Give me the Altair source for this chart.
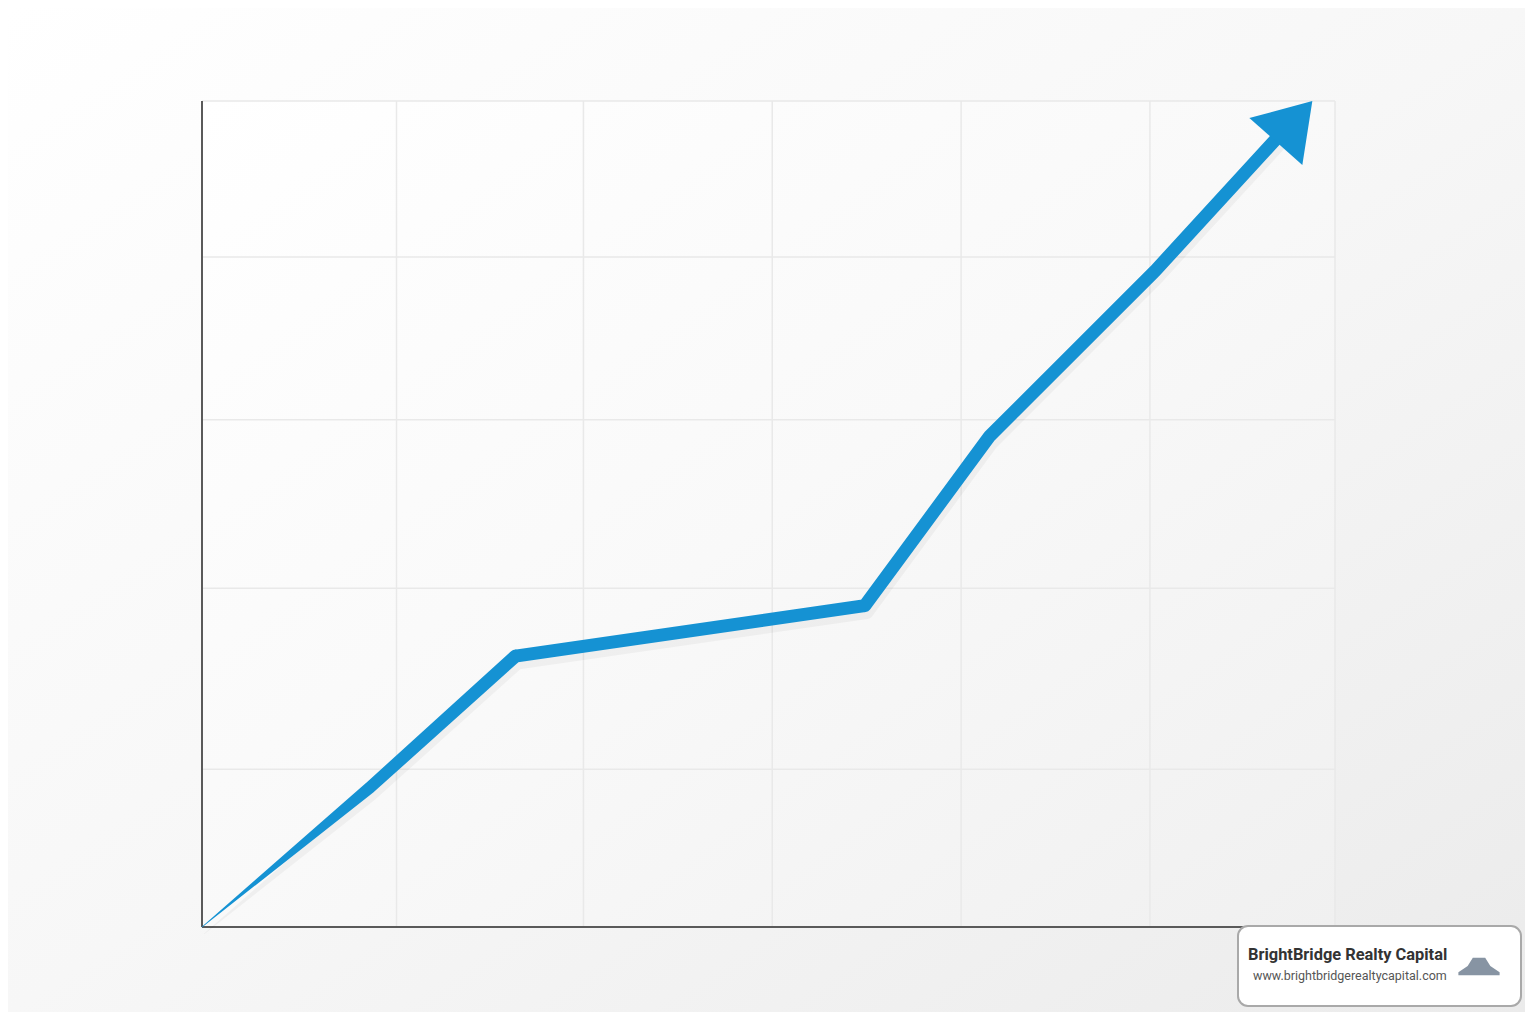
import altair as alt
import pandas as pd

# ---- data ----
line_x = [0.0, 0.89, 1.66, 3.51, 4.17, 5.05, 5.76]
line_y = [0.0, 16.9, 32.8, 38.9, 59.4, 79.5, 97.2]
line_w = [0.5, 12, 13, 13, 13, 13, 13]
tip_x = [5.88]
tip_y = [100.0]
x_grid = [1.03, 2.02, 3.02, 4.02, 5.02, 6]
y_grid = [19.1, 41.0, 61.4, 81.1, 100]
brand_name = ["BrightBridge Realty Capital"]
brand_url = ["www.brightbridgerealtycapital.com"]

W, H = 1133, 826
PAD = {"left": 194, "top": 93, "right": 190, "bottom": 85}
BLUE = "#1592d3"

df = pd.DataFrame({"x": line_x, "y": line_y, "w": line_w})
tip = pd.DataFrame({"x": tip_x, "y": tip_y})

xs = alt.Scale(domain=[0, 6], nice=False, zero=False)
ys = alt.Scale(domain=[0, 100], nice=False, zero=False)

bg = alt.Chart(pd.DataFrame({"a": [0]})).mark_rect(
    color=alt.Gradient(gradient="linear", x1=0, y1=0, x2=1, y2=1,
                       stops=[alt.GradientStop(color="#ffffff", offset=0),
                              alt.GradientStop(color="#f7f7f7", offset=0.5),
                              alt.GradientStop(color="#ebebeb", offset=1)])
).encode(x=alt.value(-PAD["left"]), x2=alt.value(W + PAD["right"]),
         y=alt.value(-PAD["top"]), y2=alt.value(H + PAD["bottom"]))

panel = alt.Chart(pd.DataFrame({"a": [0]})).mark_rect(
    color=alt.Gradient(gradient="linear", x1=0, y1=0, x2=1, y2=1,
                       stops=[alt.GradientStop(color="#ffffff", offset=0),
                              alt.GradientStop(color="#f9f9f9", offset=0.5),
                              alt.GradientStop(color="#f0f0f0", offset=1)])
).encode(x=alt.value(0), x2=alt.value(W), y=alt.value(0), y2=alt.value(H))

vgrid = alt.Chart(pd.DataFrame({"g": x_grid})).mark_rule(color="#e9e9e9", strokeWidth=1.5).encode(
    x=alt.X("g:Q", scale=xs, axis=None), y=alt.value(0), y2=alt.value(H))
hgrid = alt.Chart(pd.DataFrame({"g": y_grid})).mark_rule(color="#e9e9e9", strokeWidth=1.5).encode(
    y=alt.Y("g:Q", scale=ys, axis=None), x=alt.value(0), x2=alt.value(W))

axes_x = alt.Chart(pd.DataFrame({"g": [0]})).mark_rule(color="#5a5a5a", strokeWidth=2).encode(
    x=alt.X("g:Q", scale=xs, axis=None), y=alt.value(0), y2=alt.value(H))
axes_y = alt.Chart(pd.DataFrame({"g": [0]})).mark_rule(color="#5a5a5a", strokeWidth=2).encode(
    y=alt.Y("g:Q", scale=ys, axis=None), x=alt.value(0), x2=alt.value(W))

base = alt.Chart(df)

shadow = base.mark_trail(color="#000000", opacity=0.04, yOffset=7, xOffset=2).encode(
    x=alt.X("x:Q", scale=xs, axis=None),
    y=alt.Y("y:Q", scale=ys, axis=None),
    size=alt.Size("w:Q", scale=None, legend=None),
)

trail = base.mark_trail(color=BLUE).encode(
    x=alt.X("x:Q", scale=xs, axis=None),
    y=alt.Y("y:Q", scale=ys, axis=None),
    size=alt.Size("w:Q", scale=None, legend=None),
)

head = alt.Chart(tip).mark_point(
    shape="M0,0L-1.575,0.425L-0.25,1.6Z", filled=True, opacity=1, color=BLUE,
    size=6400, strokeWidth=0
).encode(x=alt.X("x:Q", scale=xs, axis=None), y=alt.Y("y:Q", scale=ys, axis=None))

box = alt.Chart(pd.DataFrame({"a": [0]})).mark_rect(
    fill="#ffffff", stroke="#a9a9a9", strokeWidth=2, cornerRadius=10
).encode(x=alt.value(1036), x2=alt.value(1319), y=alt.value(825), y2=alt.value(905))

name = alt.Chart(pd.DataFrame({"t": brand_name})).mark_text(
    font="Roboto", fontSize=16.4, fontWeight="bold", color="#333333", align="left", baseline="alphabetic"
).encode(text="t:N", x=alt.value(1046), y=alt.value(859))

url = alt.Chart(pd.DataFrame({"t": brand_url})).mark_text(
    font="Roboto", fontSize=12.5, color="#555555", align="left", baseline="alphabetic"
).encode(text="t:N", x=alt.value(1051), y=alt.value(879))

logo = alt.Chart(pd.DataFrame({"a": [0]})).mark_point(
    shape="M-1,0.35L-0.55,0.05L-0.3,-0.35L0.3,-0.35L0.55,0.05L1,0.35L1,0.5L-1,0.5Z",
    filled=True, color="#7a8899", size=1700, opacity=0.9, strokeWidth=0
).encode(x=alt.value(1277), y=alt.value(864))

chart = alt.layer(bg, panel, vgrid, hgrid, axes_x, axes_y, shadow, trail, head, box, name, url, logo).properties(
    width=W, height=H, padding=PAD, autosize=alt.AutoSizeParams(type="none"),
    background="#f4f4f4"
).configure_view(stroke=None, fill=None)

chart.save("out.html", embed_options={"renderer": "svg", "actions": False})
